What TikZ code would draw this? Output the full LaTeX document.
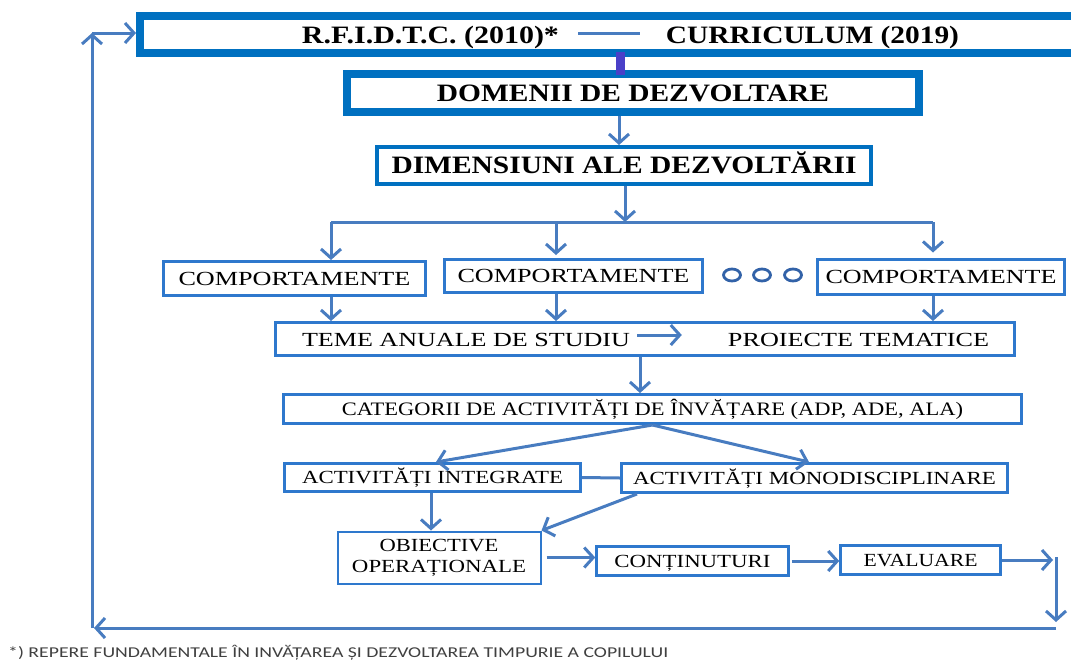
\documentclass[tikz,border=0pt]{standalone}
\usepackage{fontspec}
\usepackage{graphicx}
\setmainfont{Liberation Serif}
\newfontfamily\notefont{Carlito}
\usetikzlibrary{arrows.meta,shapes.geometric}
\definecolor{thickblue}{RGB}{0,112,192}
\definecolor{boxblue}{RGB}{46,120,205}
\definecolor{conblue}{RGB}{72,124,192}
\definecolor{dotblue}{RGB}{50,98,168}
\definecolor{barpurple}{RGB}{74,64,200}
\definecolor{notegray}{RGB}{64,64,64}
\newcommand{\fitw}[2]{\resizebox{#1}{\height}{#2}}
\tikzset{
  bx/.style={draw=boxblue, line width=3pt, inner sep=0pt, fill=white},
  thickbx/.style={draw=thickblue, line width=8pt, inner sep=0pt, fill=white},
  bigfont/.style={font=\fontsize{25}{30}\selectfont\bfseries, text height=16.5pt, text depth=0pt},
  regfont/.style={font=\fontsize{20}{24}\selectfont, text height=13.3pt, text depth=0pt},
  smallfont/.style={font=\fontsize{18.5}{22}\selectfont, text height=12.3pt, text depth=0pt},
  txt/.style={inner sep=0pt},
  con/.style={draw=conblue, line width=3pt},
  arr/.style={con, -{Straight Barb[length=9pt,width=20pt]}},
  dotc/.style={draw=dotblue, line width=2.8pt, ellipse, minimum width=17pt, minimum height=12pt, inner sep=0pt},
}
\begin{document}
\begin{tikzpicture}[x=1pt,y=-1pt]
\useasboundingbox (0,0) rectangle (1071,662);
\clip (0,0) rectangle (1071,662);

% top box
\node[thickbx, minimum width=940pt, minimum height=37pt] (top) at (610,34.5) {};
\node[txt, bigfont] (t1) at (430.5,35) {\fitw{257pt}{R.F.I.D.T.C. (2010)*}};
\node[txt, bigfont] (t2) at (812.5,35) {\fitw{293pt}{CURRICULUM (2019)}};
\draw[con] ([xshift=19pt,yshift=1.5pt]t1.east) -- ([xshift=-26pt,yshift=1.5pt]t2.west);

% domains
\node[thickbx, bigfont, minimum width=572pt, minimum height=38pt] (dom) at (633,93) {\fitw{392pt}{DOMENII DE DEZVOLTARE}};
\node[thickbx, line width=4pt, bigfont, minimum width=494pt, minimum height=37pt] (dim) at (624,165.5) {\fitw{465pt}{DIMENSIUNI ALE DEZVOLTĂRII}};

% x positions
\coordinate (xbar) at (620,0);
\coordinate (x619) at (619,0);
\coordinate (x625) at (625,0);
\coordinate (sL) at (331,222);
\coordinate (sR) at (933,222);
\coordinate (x556) at (556,0);
\coordinate (x640) at (640,0);
\coordinate (x436) at (436,0);
\coordinate (x809) at (809,0);
\coordinate (x431) at (431,0);
\coordinate (x637) at (637,0);
\coordinate (rc) at (1056,557);
\coordinate (rb) at (1056,628);
\coordinate (lb) at (92,628);
\coordinate (lt) at (92,33);

\draw[barpurple, line width=9pt, shorten <=-5pt, shorten >=-5pt] (xbar |- top.south) -- (xbar |- dom.north);
\draw[arr] (x619 |- dom.south) -- (x619 |- dim.north);
\draw[arr] (x625 |- dim.south) -- (x625 |- sL);

% behaviours
\node[bx, regfont, minimum width=262pt, minimum height=34pt] (c1) at (294.5,278.5) {\fitw{232pt}{COMPORTAMENTE}};
\node[bx, regfont, minimum width=258pt, minimum height=33pt] (c2) at (573.5,276) {\fitw{232pt}{COMPORTAMENTE}};
\node[bx, regfont, minimum width=247pt, minimum height=35pt] (c3) at (941,276.5) {\fitw{231pt}{COMPORTAMENTE}};
\node[dotc] (d1) at (732,275) {};
\node[dotc] (d2) at (762,275) {};
\node[dotc] (d3) at (793,275) {};

\draw[con] (sL) -- (sR);
\draw[arr] (sL) -- (sL |- c1.north);
\draw[arr] (x556 |- sL) -- ([yshift=3pt]x556 |- c2.north);
\draw[arr] (sR) -- ([yshift=5pt]sR |- c3.north);

% themes
\node[bx, minimum width=739pt, minimum height=33pt] (teme) at (645,339) {};
\node[txt, regfont] (tm1) at (466,340) {\fitw{328pt}{TEME ANUALE DE STUDIU}};
\node[txt, regfont] (tm2) at (858.5,340) {\fitw{261pt}{PROIECTE TEMATICE}};
\draw[arr] ([xshift=7pt,yshift=5pt]tm1.east) -- ([xshift=-46pt,yshift=5pt]tm2.west);

\draw[arr] (sL |- c1.south) -- (sL |- teme.north);
\draw[arr] (x556 |- c2.south) -- (x556 |- teme.north);
\draw[arr] (sR |- c3.south) -- (sR |- teme.north);

% categories
\node[bx, font=\fontsize{19}{23}\selectfont, text height=12.6pt, text depth=0pt, minimum width=738pt, minimum height=29pt] (cat) at (652.5,409) {\fitw{621pt}{CATEGORII DE ACTIVITĂȚI DE ÎNVĂȚARE (ADP, ADE, ALA)}};
\draw[arr] (x640 |- teme.south) -- (x640 |- cat.north);

% activities
\node[bx, smallfont, minimum width=296pt, minimum height=28pt] (int) at (432.5,477.5) {\fitw{261pt}{ACTIVITĂȚI INTEGRATE}};
\node[bx, smallfont, minimum width=386pt, minimum height=29pt] (mono) at (814.5,478) {\fitw{363pt}{ACTIVITĂȚI MONODISCIPLINARE}};
\draw[arr] (cat.south) -- (x436 |- int.north);
\draw[arr] (cat.south) -- (x809 |- mono.north);
\draw[con] (int.east) -- (mono.west);

% objectives, contents, evaluation
\node[bx, line width=2pt, minimum width=203pt, minimum height=52pt, align=center, font=\fontsize{18.5}{21}\selectfont] (obj) at (439,557.5) {\fitw{119pt}{OBIECTIVE}\\\fitw{174pt}{OPERAȚIONALE}};
\node[bx, line width=2.5pt, smallfont, minimum width=192pt, minimum height=29pt] (cont) at (692.5,561) {\fitw{156pt}{CONȚINUTURI}};
\node[bx, line width=2.5pt, smallfont, minimum width=160pt, minimum height=29pt] (eval) at (920.5,560) {\fitw{114pt}{EVALUARE}};

\draw[arr] (x431 |- int.south) -- (x431 |- obj.north);
\draw[arr] (x637 |- mono.south) -- (obj.north east);
\draw[arr, shorten <=5pt] (obj.east) -- (obj.east -| cont.west);
\draw[arr, shorten <=2pt] (cont.east) -- (cont.east -| eval.west);
\draw[arr, shorten >=3pt] (eval.east) -- (eval.east -| rc);

% feedback loop
\draw[con] (eval.east -| rc) -- (rc);
\draw[arr, shorten >=6pt] (rc) -- (rb);
\draw[arr, shorten >=2pt] (rb) -- (lb);
\draw[arr] (lb) -- (lt);
\draw[arr] (lt) -- (lt -| top.west);

% footnote
\node[txt, anchor=west, text=notegray, font=\notefont\fontsize{15}{18}\selectfont] (note) at (8,653) {\fitw{660pt}{*) REPERE FUNDAMENTALE ÎN INVĂȚAREA ȘI DEZVOLTAREA TIMPURIE A COPILULUI}};
\end{tikzpicture}
\end{document}
